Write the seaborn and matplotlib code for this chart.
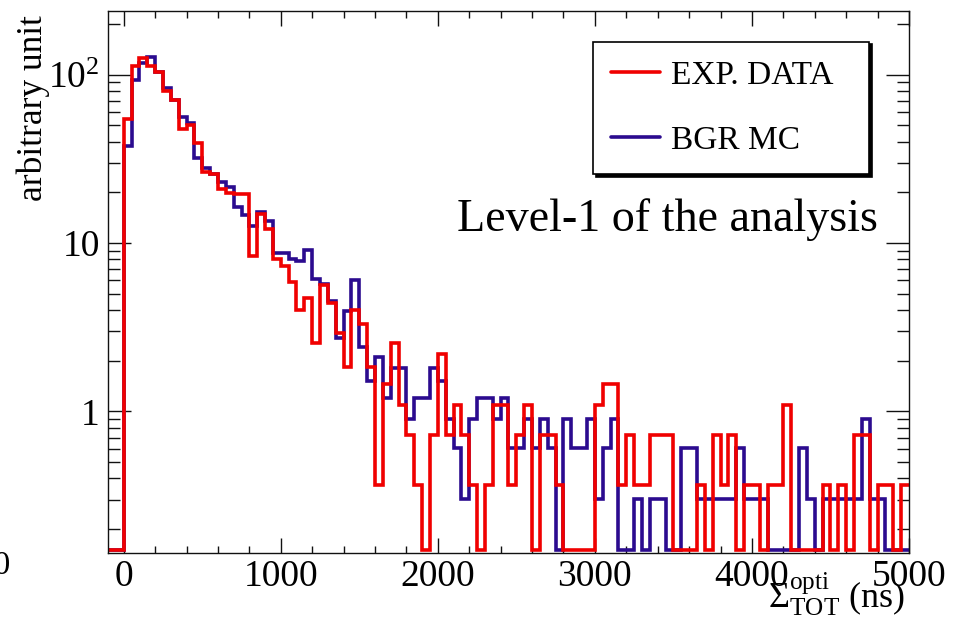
import numpy as np
import pandas as pd
import matplotlib
matplotlib.use("Agg")
import matplotlib.pyplot as plt
import seaborn as sns
from matplotlib.lines import Line2D
from matplotlib.ticker import FixedLocator, FixedFormatter, LogLocator, MultipleLocator, NullFormatter

# ---------------- data ----------------
bin_edges = list(range(-100, 5001, 50))        # 102 bins of 50 ns, from -100 to 5000 ns

exp_data = [0, 0,
    54.9, 112, 126, 112, 104, 79.6, 71.1, 47.7, 50.6, 39.4,
    26.4, 25.8, 20.9, 19.8, 19.5, 19.5, 8.4, 14.8, 12.1, 8.1,
    7.3, 5.85, 4.02, 4.75, 2.56, 5.66, 4.38, 2.92, 1.83, 4.02,
    3.29, 1.83, 0.365, 1.46, 2.56, 1.10, 0.73, 0.365, 0, 0.73,
    2.19, 0.73, 1.10, 0.73, 0.365, 0, 0.365, 1.10, 1.10, 0.365,
    0.73, 1.10, 0, 0.73, 0.73, 0.365, 0, 0, 0, 0,
    1.10, 1.46, 1.46, 0.365, 0.73, 0.365, 0.365, 0.73, 0.73, 0.73,
    0, 0, 0, 0.365, 0, 0.73, 0.365, 0.73, 0, 0.365,
    0.365, 0, 0.365, 0.365, 1.10, 0, 0, 0, 0, 0.365,
    0, 0.365, 0, 0.73, 0.73, 0, 0.365, 0.365, 0, 0.365]

bgr_mc = [0, 0,
    37.6, 93.4, 118, 128, 104, 83.4, 71, 56.2, 51.8, 32,
    28, 25.6, 23, 21.4, 16.4, 14.6, 12.6, 15.3, 13.5, 8.7,
    8.7, 8.0, 7.85, 9.1, 6.1, 5.7, 4.5, 2.72, 3.93, 6.04,
    2.42, 1.51, 2.11, 1.21, 1.81, 1.81, 0.906, 1.21, 1.21, 1.81,
    1.51, 0.906, 0.604, 0.302, 0.906, 1.21, 1.21, 0.906, 1.21, 0.604,
    0.604, 0.906, 0.604, 0.906, 0.604, 0, 0.906, 0.604, 0.604, 0.906,
    0.302, 0.604, 0.906, 0, 0, 0.302, 0, 0.302, 0.302, 0,
    0, 0.604, 0.604, 0.302, 0.302, 0.302, 0.302, 0.302, 0.604, 0.302,
    0.302, 0.302, 0, 0, 0, 0, 0.604, 0.302, 0, 0.302,
    0.302, 0.302, 0.302, 0.302, 0.906, 0.302, 0.302, 0, 0, 0]

series_labels = ["EXP. DATA", "BGR MC"]
y_tick_values = [1, 10, 100]
y_tick_labels = ["1", "10", r"$10^{2}$"]
x_tick_values = [0, 1000, 2000, 3000, 4000, 5000]
title_text = "Level-1 of the analysis"
x_label = r"$\Sigma_{\mathrm{TOT}}^{\mathrm{opti}}$ (ns)"
y_label = "arbitrary unit"

# ---------------- style ----------------
sns.set_style("white")
plt.rcParams.update({
    "font.family": ["Liberation Serif", "DejaVu Serif"],
    "mathtext.fontset": "custom",
    "mathtext.rm": "Liberation Serif",
    "mathtext.it": "Liberation Serif:italic",
    "mathtext.bf": "Liberation Serif:bold",
    "axes.edgecolor": "#111111",
    "axes.linewidth": 1.0,
    "text.color": "black",
    "axes.labelcolor": "black",
    "xtick.color": "#111111",
    "ytick.color": "#111111",
    "xtick.labelcolor": "black",
    "ytick.labelcolor": "black",
})

RED = "#f00000"
BLUE = "#2b0b8f"
YMIN, YMAX = 0.145, 239
FLOOR = 0.15   # ROOT draws empty bins on the bottom of the frame

edges_arr = np.array(bin_edges, float)
centers = (edges_arr[:-1] + edges_arr[1:]) / 2
df = pd.DataFrame({
    "center": centers,
    "exp": np.maximum(np.array(exp_data, float), FLOOR),
    "mc": np.maximum(np.array(bgr_mc, float), FLOOR),
})

fig = plt.figure(figsize=(9.56, 6.19), dpi=100)
ax = fig.add_axes([108 / 956, 1 - 552.7 / 619, 801 / 956, 541.7 / 619])

line_kw = dict(element="step", fill=False, linewidth=2.6, solid_joinstyle="miter")
sns.histplot(data=df, x="center", weights="mc", bins=bin_edges, color=BLUE, ax=ax, **line_kw)
sns.histplot(data=df, x="center", weights="exp", bins=bin_edges, color=RED, ax=ax, **line_kw)

ax.set_yscale("log")
ax.set_xlim(bin_edges[0], bin_edges[-1])
ax.set_ylim(YMIN, YMAX)

ax.xaxis.set_major_locator(FixedLocator(x_tick_values))
ax.xaxis.set_minor_locator(MultipleLocator(200))
ax.yaxis.set_major_locator(FixedLocator(y_tick_values))
ax.yaxis.set_major_formatter(FixedFormatter(y_tick_labels))
ax.yaxis.set_minor_locator(LogLocator(base=10, subs=np.arange(2, 10)))
ax.yaxis.set_minor_formatter(NullFormatter())

ax.tick_params(which="both", direction="in", bottom=True, left=True, top=True, right=True,
               width=1.0, labelsize=27)
ax.tick_params(axis="x", which="major", length=11, pad=5)
ax.tick_params(axis="x", which="minor", length=5.3)
ax.tick_params(axis="y", which="major", length=16.5, pad=6)
ax.tick_params(axis="y", which="minor", length=8.5)

ax.set_xlabel(x_label, fontsize=26, loc="right")
ax.xaxis.set_label_coords(0.995, -0.034)
ax.set_ylabel(y_label, fontsize=25.5, loc="top")
ax.yaxis.set_label_coords(-0.073, 0.9926)

ax.text(0.436, 0.594, title_text, transform=ax.transAxes, fontsize=33.2,
        ha="left", va="baseline")

handles = [Line2D([], [], color=RED, lw=2.6), Line2D([], [], color=BLUE, lw=2.6)]
leg = ax.legend(handles, series_labels, loc="upper left",
                bbox_to_anchor=(593 / 956, 1 - 171.7 / 619, 276 / 956, 130 / 619),
                bbox_transform=fig.transFigure, mode="expand", fontsize=24,
                frameon=True, fancybox=False, framealpha=1, edgecolor="black",
                shadow={"color": "black", "alpha": 1},
                borderpad=0.55, labelspacing=1.05, handlelength=1.45,
                handletextpad=0.33, borderaxespad=0)
leg.get_frame().set_linewidth(1.2)

# clipped label remnant at the very left edge of the canvas
fig.text(11 / 956, 1 - 566 / 619, "00", ha="right", va="center", fontsize=24)

fig.savefig("out.png", dpi=100)
